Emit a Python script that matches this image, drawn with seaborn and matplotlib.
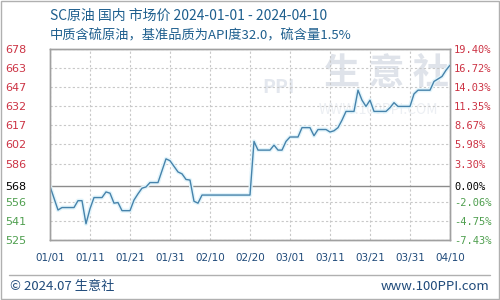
import matplotlib
matplotlib.use("Agg")
import matplotlib.pyplot as plt
import matplotlib.dates as mdates
import seaborn as sns
import pandas as pd
import numpy as np

# ---- data ----
dates = ["2024-01-01", "2024-01-03", "2024-01-04", "2024-01-07", "2024-01-08", "2024-01-09",
         "2024-01-10", "2024-01-11", "2024-01-12", "2024-01-14", "2024-01-15", "2024-01-16",
         "2024-01-17", "2024-01-18", "2024-01-19", "2024-01-21", "2024-01-22", "2024-01-23",
         "2024-01-24", "2024-01-25", "2024-01-26", "2024-01-28", "2024-01-30", "2024-01-31",
         "2024-02-02", "2024-02-03", "2024-02-04", "2024-02-05", "2024-02-06", "2024-02-07",
         "2024-02-08", "2024-02-20", "2024-02-21", "2024-02-22", "2024-02-25", "2024-02-26",
         "2024-02-27", "2024-02-28", "2024-02-29", "2024-03-01", "2024-03-03", "2024-03-04",
         "2024-03-05", "2024-03-06", "2024-03-07", "2024-03-08", "2024-03-10", "2024-03-11",
         "2024-03-12", "2024-03-13", "2024-03-14", "2024-03-15", "2024-03-17", "2024-03-18",
         "2024-03-19", "2024-03-20", "2024-03-21", "2024-03-22", "2024-03-25", "2024-03-26",
         "2024-03-27", "2024-03-28", "2024-03-31", "2024-04-01", "2024-04-02", "2024-04-05",
         "2024-04-06", "2024-04-07", "2024-04-08", "2024-04-09", "2024-04-10"]
prices = [568, 549, 551, 551, 556.5, 556.5,
          538, 550, 559, 559, 563.5, 562.5,
          554.5, 555, 548.5, 548.5, 557, 562,
          566.5, 567.5, 571, 571, 590, 588.5,
          579.5, 578, 573.5, 573, 556, 554.5,
          561, 561, 604, 597, 597, 601,
          597, 597, 604, 607.5, 607.5, 615,
          615, 615, 608.5, 613.5, 613.5, 611.5,
          612.5, 615, 621, 628, 628, 645,
          637, 632, 637, 628, 628, 631,
          635, 632, 632, 642, 645, 645,
          652, 654, 656, 661, 665]

left_labels = ["525", "541", "556", "568", "586", "602", "617", "632", "647", "663", "678"]
tick_pos = [525.0, 540.3, 555.6, 568.0, 586.2, 601.5, 616.8, 632.1, 647.4, 662.7, 678.0]
right_labels = ["-7.43%", "-4.75%", "-2.06%", "0.00%", "3.30%", "5.98%", "8.67%",
                "11.35%", "14.03%", "16.72%", "19.40%"]
base_value = 568.0
x_ticks = ["2024-01-01", "2024-01-11", "2024-01-21", "2024-01-31", "2024-02-10",
           "2024-02-20", "2024-03-01", "2024-03-11", "2024-03-21", "2024-03-31", "2024-04-10"]

title1 = "SC原油 国内 市场价 2024-01-01 - 2024-04-10"
title2 = "中质含硫原油，基准品质为API度32.0，硫含量1.5%"

df = pd.DataFrame({"date": pd.to_datetime(dates), "price": prices})

sns.set_style("white")
plt.rcParams["font.family"] = ["Noto Sans CJK SC", "DejaVu Sans"]

RED = "#cc3344"
GREEN = "#4f9f4f"
NAVY = "#1f4a7a"
TITLE = "#1e5f8e"

fig = plt.figure(figsize=(5, 3), dpi=100)
fig.patch.set_facecolor("white")
ax = fig.add_axes([0.1, 0.2, 0.8, 0.6367])

ymin, ymax = 525.0, 678.0
xmin, xmax = pd.Timestamp("2024-01-01"), pd.Timestamp("2024-04-10")

# watermark
ax.text(0.84, 0.87, "生 意 社", transform=ax.transAxes, fontsize=26, color="#dfe3ea",
        ha="center", va="center", fontweight="bold", zorder=0)
ax.text(0.82, 0.68, "WWW.100PPI.COM", transform=ax.transAxes, fontsize=10, color="#eceff3",
        ha="center", va="center", zorder=0)
ax.text(0.57, 0.80, "PPI", transform=ax.transAxes, fontsize=14, color="#e3e7ee",
        ha="center", va="center", fontweight="bold", zorder=0)

# grid
for t in tick_pos:
    if t != base_value:
        ax.axhline(t, color="#c8c8c8", lw=0.8, ls=(0, (2, 2)), zorder=1)
for d in x_ticks:
    ax.axvline(pd.Timestamp(d), color="#c8c8c8", lw=0.8, ls=(0, (2, 2)), zorder=1)
ax.axhline(base_value, color="#8c8c8c", lw=1.0, zorder=2)

# line with light halo
sns.lineplot(data=df, x="date", y="price", ax=ax, color="#e2f4fb", lw=3.0, zorder=3)
sns.lineplot(data=df, x="date", y="price", ax=ax, color="#4683ab", lw=1.0, zorder=4)

ax.set_xlim(xmin, xmax)
ax.set_ylim(ymin, ymax)
ax.set_xlabel("")
ax.set_ylabel("")

ax.set_yticks(tick_pos)
ax.set_yticklabels(left_labels)
ax.tick_params(axis="y", length=0, pad=32, labelsize=8)
for lab, v in zip(ax.get_yticklabels(), tick_pos):
    lab.set_ha("left")
    lab.set_family(["DejaVu Sans"])
    lab.set_color("black" if v == base_value else (RED if v > base_value else GREEN))

ax.set_xticks([pd.Timestamp(d) for d in x_ticks])
ax.xaxis.set_major_formatter(mdates.DateFormatter("%m/%d"))
ax.tick_params(axis="x", length=0, pad=9, labelsize=7.5, labelcolor=NAVY)
for lab in ax.get_xticklabels():
    lab.set_family(["DejaVu Sans"])

ax2 = ax.twinx()
ax2.set_ylim(ymin, ymax)
ax2.set_yticks(tick_pos)
ax2.set_yticklabels(right_labels)
ax2.tick_params(axis="y", length=0, pad=3, labelsize=7.5)
for lab, v in zip(ax2.get_yticklabels(), tick_pos):
    lab.set_family(["DejaVu Sans Mono"])
    lab.set_color("black" if v == base_value else (RED if v > base_value else GREEN))

for a in (ax, ax2):
    for s in a.spines.values():
        s.set_color("#a0a0a0")
        s.set_linewidth(1.0)

fig.text(0.1, 0.948, title1, fontsize=10, color=TITLE, ha="left", va="center")
fig.text(0.1, 0.882, title2, fontsize=9.5, color=TITLE, ha="left", va="center")

# footer
fig.add_artist(plt.Line2D([0.018, 0.98], [0.083, 0.083], transform=fig.transFigure,
                          color="#b0b0b0", lw=1))
fig.text(0.02, 0.045, "© 2024.07 生意社", fontsize=9.5, color=NAVY, ha="left", va="center")
fig.text(0.978, 0.045, "www.100PPI.com", fontsize=9.5, color=NAVY, ha="right", va="center")

# outer border
fig.add_artist(plt.Rectangle((0.001, 0.002), 0.997, 0.995, transform=fig.transFigure,
                             fill=False, edgecolor="#b0b0b0", lw=1))

fig.savefig("out.png", dpi=100)
